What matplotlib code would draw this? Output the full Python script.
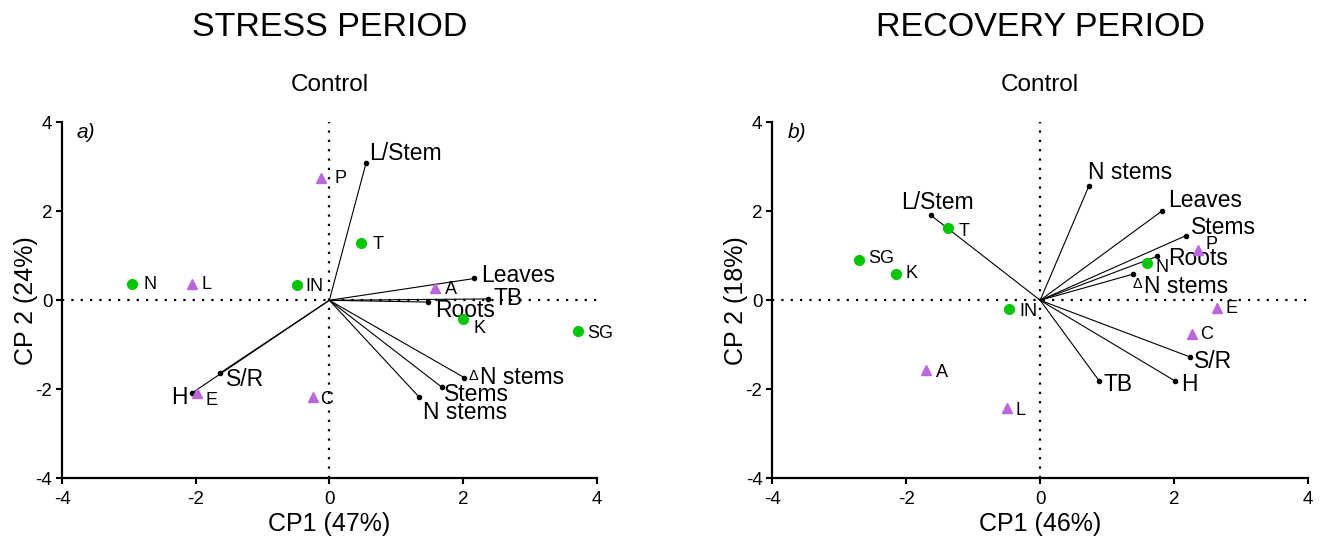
import matplotlib
matplotlib.use('Agg')
import matplotlib.pyplot as plt

plt.rcParams['font.family'] = ['Liberation Sans', 'DejaVu Sans']
plt.rcParams['axes.unicode_minus'] = False

# ---- stress period (a) ----
stress_circ_names = ['N', 'IN', 'T', 'K', 'SG']
stress_circ_x = [-2.95, -0.49, 0.48, 2.00, 3.72]
stress_circ_y = [0.37, 0.34, 1.29, -0.43, -0.69]
stress_tri_names = ['L', 'P', 'A', 'E', 'C']
stress_tri_x = [-2.06, -0.12, 1.58, -1.98, -0.24]
stress_tri_y = [0.37, 2.75, 0.28, -2.09, -2.17]
stress_vec_names = ['L/Stem', 'Leaves', 'TB', 'Roots', 'ΔN stems', 'Stems', 'N stems', 'S/R', 'H']
stress_vec_x = [0.55, 2.17, 2.37, 1.48, 2.02, 1.68, 1.34, -1.64, -2.06]
stress_vec_y = [3.09, 0.49, 0.03, -0.04, -1.74, -1.95, -2.17, -1.64, -2.09]

# ---- recovery period (b) ----
recov_circ_names = ['T', 'SG', 'K', 'IN', 'N']
recov_circ_x = [-1.38, -2.70, -2.15, -0.46, 1.60]
recov_circ_y = [1.62, 0.90, 0.58, -0.20, 0.84]
recov_tri_names = ['P', 'E', 'C', 'A', 'L']
recov_tri_x = [2.36, 2.64, 2.27, -1.70, -0.49]
recov_tri_y = [1.14, -0.17, -0.75, -1.57, -2.43]
recov_vec_names = ['L/Stem', 'N stems', 'Leaves', 'Stems', 'Roots', 'ΔN stems', 'S/R', 'H', 'TB']
recov_vec_x = [-1.63, 0.73, 1.82, 2.17, 1.75, 1.39, 2.23, 2.02, 0.88]
recov_vec_y = [1.91, 2.58, 2.01, 1.45, 0.99, 0.59, -1.27, -1.82, -1.81]

# label offsets in points
stress_pt_off = {'N': (8, -0.7), 'L': (7.4, -0.7), 'IN': (6.4, -0.7), 'P': (9.5, -0.5),
                 'T': (8, -1), 'A': (7, -1.2), 'K': (7.7, -6.5), 'SG': (7, -1.5),
                 'E': (6.4, -5.3), 'C': (4.6, -2)}
stress_vec_off = {'L/Stem': (2.5, 6.5, 'left'), 'Leaves': (5, 2, 'left'), 'TB': (4, 0, 'left'),
                  'Roots': (5, -6, 'left'), 'ΔN stems': (3.3, 0, 'left'), 'Stems': (1.5, -5.5, 'left'),
                  'N stems': (3, -11.5, 'left'), 'S/R': (4.4, -4.5, 'left'), 'H': (-2.8, -3.4, 'right')}
recov_pt_off = {'T': (7.7, -2), 'SG': (6.4, 1.4), 'K': (6.4, 0.7), 'IN': (7, -1.4),
                'N': (6.2, -3.4), 'P': (4.9, 3.6), 'E': (5.9, -0.5), 'C': (5.6, -0.5),
                'A': (7.2, -1.7), 'L': (6.2, -1.4)}
recov_vec_off = {'L/Stem': (4.4, 9, 'center'), 'N stems': (-1, 9.6, 'left'), 'Leaves': (4, 7.4, 'left'),
                 'Stems': (4, 5.8, 'left'), 'Roots': (7.4, -1.7, 'left'), 'ΔN stems': (-0.5, -9, 'left'),
                 'S/R': (3.3, -3.4, 'left'), 'H': (3.8, -2.4, 'left'), 'TB': (2.8, -2.9, 'left')}

GREEN = '#00c800'
PURPLE = '#bb66dd'


def draw_panel(ax, cx, cy, cn, tx, ty, tn, vx, vy, vn, pt_off, vec_off, letter, pct1, pct2):
    ax.axhline(0, color='black', ls=(0, (1, 3.2)), lw=1.6, zorder=1)
    ax.axvline(0, color='black', ls=(0, (1, 3.2)), lw=1.6, zorder=1)
    for x, y, name in zip(vx, vy, vn):
        ax.plot([0, x], [0, y], color='black', lw=0.8, zorder=2)
        ax.plot(x, y, 'o', color='black', ms=3, zorder=3)
        dx, dy, ha = vec_off[name]
        if name.startswith('Δ'):
            ax.annotate('Δ', (x, y), xytext=(dx, dy + 1.5), textcoords='offset points',
                        ha='left', va='center', fontsize=10.5)
            ax.annotate(name[1:], (x, y), xytext=(dx + 8, dy), textcoords='offset points',
                        ha='left', va='center', fontsize=16.5)
        else:
            ax.annotate(name, (x, y), xytext=(dx, dy), textcoords='offset points',
                        ha=ha, va='center', fontsize=16.5)
    ax.plot(cx, cy, 'o', color=GREEN, ms=7, ls='none', zorder=4)
    ax.plot(tx, ty, '^', color=PURPLE, ms=7, ls='none', zorder=4)
    for x, y, name in list(zip(cx, cy, cn)) + list(zip(tx, ty, tn)):
        dx, dy = pt_off[name]
        ax.annotate(name, (x, y), xytext=(dx, dy), textcoords='offset points',
                    ha='left', va='center', fontsize=13)
    ax.set_xlim(-4, 4)
    ax.set_ylim(-4, 4)
    ax.set_xticks([-4, -2, 0, 2, 4])
    ax.set_yticks([-4, -2, 0, 2, 4])
    for s in ['top', 'right']:
        ax.spines[s].set_visible(False)
    for s in ['left', 'bottom']:
        ax.spines[s].set_linewidth(1.6)
    ax.tick_params(direction='out', length=4, width=1.5, labelsize=13.5, pad=3)
    ax.tick_params(axis='x', pad=5)
    ax.set_xlabel('CP1 (%d%%)' % pct1, fontsize=18, labelpad=3)
    ax.set_ylabel('CP 2 (%d%%)' % pct2, fontsize=18, labelpad=-2)
    ax.text(0.028, 0.972, letter, transform=ax.transAxes, fontsize=15, style='italic',
            ha='left', va='center')


fig = plt.figure(figsize=(13.2, 5.44), dpi=100)
ax1 = fig.add_axes([0.047, 0.121, 0.405, 0.654])
ax2 = fig.add_axes([0.585, 0.121, 0.406, 0.654])

draw_panel(ax1, stress_circ_x, stress_circ_y, stress_circ_names,
           stress_tri_x, stress_tri_y, stress_tri_names,
           stress_vec_x, stress_vec_y, stress_vec_names,
           stress_pt_off, stress_vec_off, 'a)', 47, 24)
draw_panel(ax2, recov_circ_x, recov_circ_y, recov_circ_names,
           recov_tri_x, recov_tri_y, recov_tri_names,
           recov_vec_x, recov_vec_y, recov_vec_names,
           recov_pt_off, recov_vec_off, 'b)', 46, 18)

fig.text(0.25, 1 - 27 / 544, 'STRESS PERIOD', fontsize=24.5, ha='center', va='center')
fig.text(0.25, 1 - 85 / 544, 'Control', fontsize=17.5, ha='center', va='center')
fig.text(0.788, 1 - 27 / 544, 'RECOVERY PERIOD', fontsize=24.5, ha='center', va='center')
fig.text(0.788, 1 - 85 / 544, 'Control', fontsize=17.5, ha='center', va='center')

fig.savefig('out.png', dpi=100)
